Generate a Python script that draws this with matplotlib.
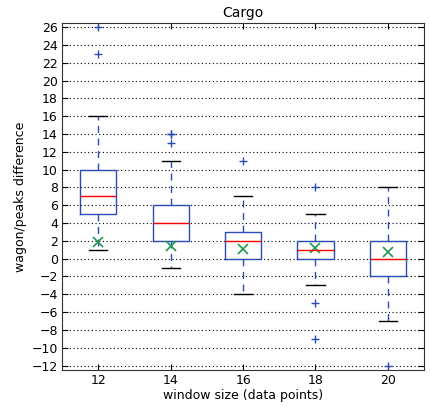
import matplotlib
matplotlib.use("Agg")
import matplotlib.pyplot as plt

# window sizes and box statistics
windows = [12, 14, 16, 18, 20]
q1 = [5, 2, 0, 0, -2]
medians = [7, 4, 2, 1, 0]
q3 = [10, 6, 3, 2, 2]
whislo = [1, -1, -4, -3, -7]
whishi = [16, 11, 7, 5, 8]
fliers = [[23, 26], [13, 14, 14], [11], [8, -5, -9], [-12]]
means = [1.9, 1.45, 1.1, 1.15, 0.8]

stats = []
for i, w in enumerate(windows):
    stats.append({
        'label': str(w), 'q1': q1[i], 'med': medians[i], 'q3': q3[i],
        'whislo': whislo[i], 'whishi': whishi[i], 'fliers': fliers[i],
    })

blue = '#2a4cb4'
fig = plt.figure(figsize=(4.31, 4.07), dpi=100)
ax = fig.add_axes([0.144, 0.091, 0.84, 0.853])

ax.bxp(stats, widths=0.5, showfliers=True,
       boxprops=dict(color=blue, linewidth=1),
       whiskerprops=dict(color=blue, linestyle=(0, (5, 4)), linewidth=1),
       capprops=dict(color='black', linewidth=1),
       medianprops=dict(color='red', linewidth=1),
       flierprops=dict(marker='+', markeredgecolor=blue, markersize=6, linestyle='none'))
ax.plot(range(1, len(windows) + 1), means, 'x', color='#1f9950', markersize=7, mew=1.2)

ax.set_xlim(0.5, 5.5)
ax.set_ylim(-12.5, 26.5)
ax.set_yticks(range(-12, 27, 2))
ax.yaxis.grid(True, linestyle=(0, (1, 2.3)), color='black', linewidth=0.8)
ax.set_axisbelow(True)
ax.tick_params(direction='in', top=True, right=True, labelsize=9, length=4, pad=3)
for s in ax.spines.values():
    s.set_color('#333333')
ax.set_title('Cargo', fontsize=10, pad=4)
ax.set_xlabel('window size (data points)', fontsize=9, labelpad=1)
ax.set_ylabel('wagon/peaks difference', fontsize=9, labelpad=3)

fig.savefig('out.png', dpi=100)
